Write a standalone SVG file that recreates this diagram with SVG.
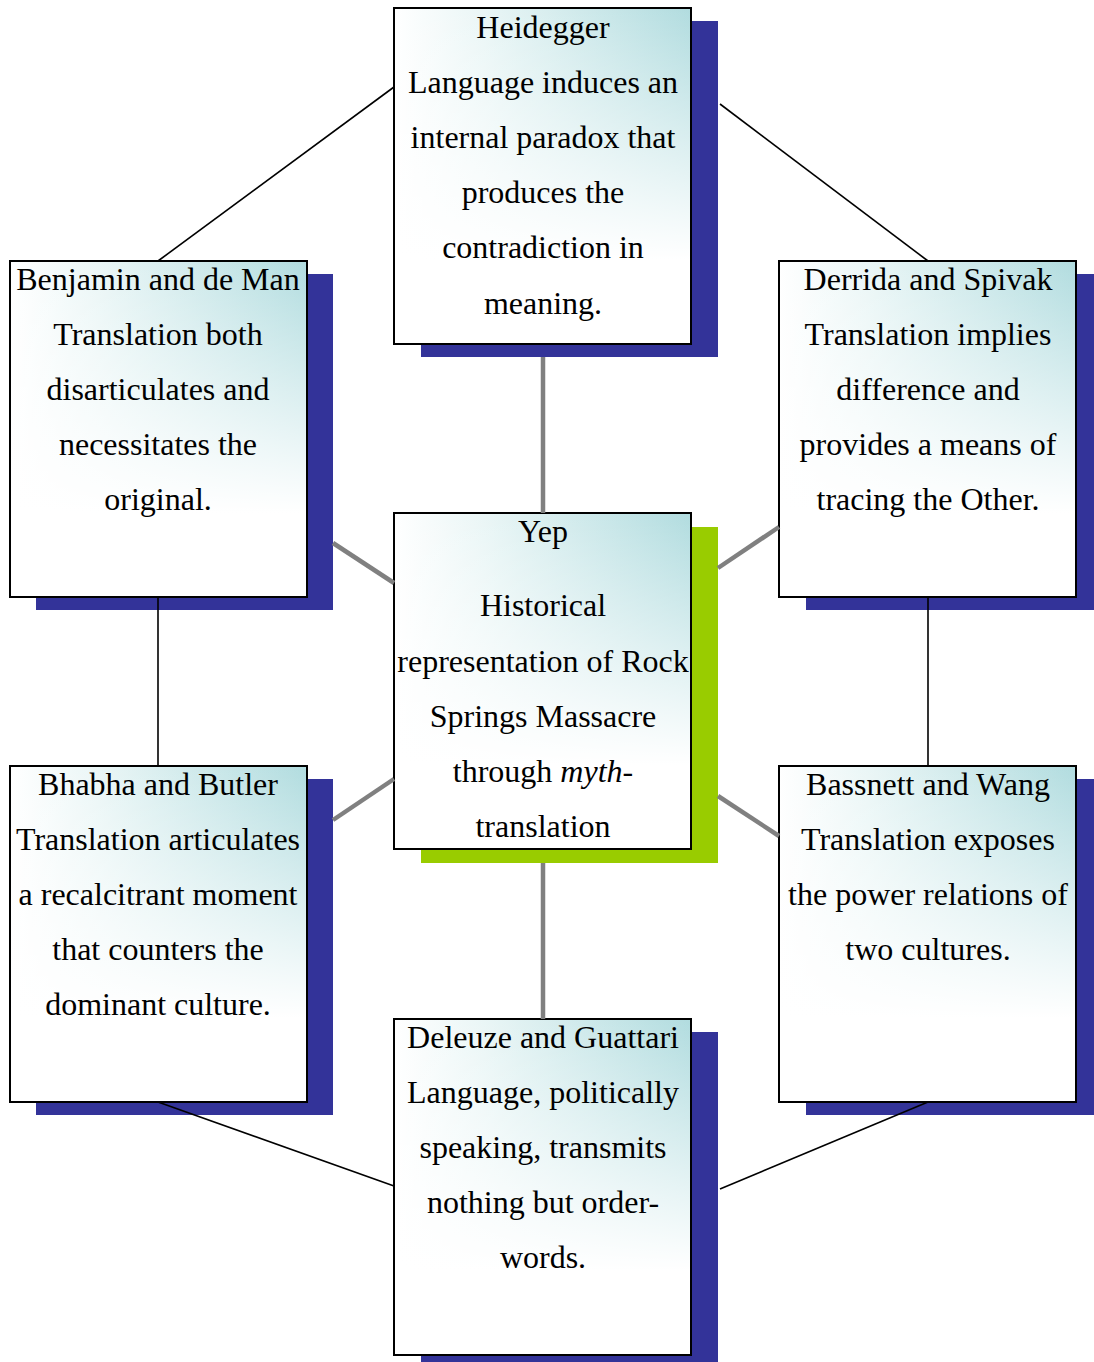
<svg xmlns="http://www.w3.org/2000/svg" width="1094" height="1362" viewBox="0 0 1094 1362">
<style>
.box{stroke:#000;stroke-width:2}
.shb{fill:#333399}
.shg{fill:#99cc00}
.t{font-family:"Liberation Serif","Times New Roman",serif;font-size:32px;fill:#000;text-anchor:middle}
.thin{stroke:#000;stroke-width:1.6;fill:none}
.thick{stroke:#808080;stroke-width:4.5;fill:none}
</style>
<defs>
<linearGradient id="gx" x1="0" y1="0" x2="1" y2="0">
<stop offset="0" stop-color="#ffffff"/>
<stop offset="0.3" stop-color="#eaf6f6"/>
<stop offset="1" stop-color="#b1dcdf"/>
</linearGradient>
<linearGradient id="gy" x1="0" y1="0" x2="0" y2="1">
<stop offset="0" stop-color="#ffffff" stop-opacity="0"/>
<stop offset="0.75" stop-color="#ffffff" stop-opacity="1"/>
<stop offset="1" stop-color="#ffffff" stop-opacity="1"/>
</linearGradient>
<g id="card">
<rect x="0" y="0" width="297" height="336" fill="url(#gx)"/>
<rect x="0" y="0" width="297" height="336" fill="url(#gy)"/>
<rect class="box" x="0" y="0" width="297" height="336" fill="none"/>
</g>
</defs>
<rect width="1094" height="1362" fill="#fff"/>
<g id="heidegger">
<rect class="shb" x="421" y="21" width="297" height="336"/>
<use href="#card" x="394" y="8"/>
<text class="t" x="543" y="38">Heidegger</text>
<text class="t" x="543" y="93">Language induces an</text>
<text class="t" x="543" y="148">internal paradox that</text>
<text class="t" x="543" y="203">produces the</text>
<text class="t" x="543" y="258">contradiction in</text>
<text class="t" x="543" y="314">meaning.</text>
</g>
<g id="benjamin">
<rect class="shb" x="36" y="274" width="297" height="336"/>
<use href="#card" x="10" y="261"/>
<text class="t" x="158" y="290">Benjamin and de Man</text>
<text class="t" x="158" y="345">Translation both</text>
<text class="t" x="158" y="400">disarticulates and</text>
<text class="t" x="158" y="455">necessitates the</text>
<text class="t" x="158" y="510">original.</text>
</g>
<g id="derrida">
<rect class="shb" x="806" y="274" width="288" height="336"/>
<use href="#card" x="779" y="261"/>
<text class="t" x="928" y="290">Derrida and Spivak</text>
<text class="t" x="928" y="345">Translation implies</text>
<text class="t" x="928" y="400">difference and</text>
<text class="t" x="928" y="455">provides a means of</text>
<text class="t" x="928" y="510">tracing the Other.</text>
</g>
<g id="yep">
<rect class="shg" x="421" y="527" width="297" height="336"/>
<use href="#card" x="394" y="513"/>
<text class="t" x="543" y="542">Yep</text>
<text class="t" x="543" y="616">Historical</text>
<text class="t" x="543" y="672">representation of Rock</text>
<text class="t" x="543" y="727">Springs Massacre</text>
<text class="t" x="543" y="782">through <tspan font-style="italic">myth</tspan>-</text>
<text class="t" x="543" y="837">translation</text>
</g>
<g id="bhabha">
<rect class="shb" x="36" y="779" width="297" height="336"/>
<use href="#card" x="10" y="766"/>
<text class="t" x="158" y="795">Bhabha and Butler</text>
<text class="t" x="158" y="850">Translation articulates</text>
<text class="t" x="158" y="905">a recalcitrant moment</text>
<text class="t" x="158" y="960">that counters the</text>
<text class="t" x="158" y="1015">dominant culture.</text>
</g>
<g id="bassnett">
<rect class="shb" x="806" y="779" width="288" height="336"/>
<use href="#card" x="779" y="766"/>
<text class="t" x="928" y="795">Bassnett and Wang</text>
<text class="t" x="928" y="850">Translation exposes</text>
<text class="t" x="928" y="905">the power relations of</text>
<text class="t" x="928" y="960">two cultures.</text>
</g>
<g id="deleuze">
<rect class="shb" x="421" y="1032" width="297" height="330"/>
<use href="#card" x="394" y="1019"/>
<text class="t" x="543" y="1048">Deleuze and Guattari</text>
<text class="t" x="543" y="1103">Language, politically</text>
<text class="t" x="543" y="1158">speaking, transmits</text>
<text class="t" x="543" y="1213">nothing but order-</text>
<text class="t" x="543" y="1268">words.</text>
</g>
<g id="connectors">
<line class="thin" x1="394" y1="87" x2="158" y2="261"/>
<line class="thin" x1="720" y1="104" x2="928" y2="261"/>
<line class="thin" x1="158" y1="597" x2="158" y2="766"/>
<line class="thin" x1="928" y1="597" x2="928" y2="766"/>
<line class="thin" x1="158" y1="1102" x2="394" y2="1186"/>
<line class="thin" x1="928" y1="1102" x2="720" y2="1189"/>
<line class="thick" x1="543" y1="357" x2="543" y2="513"/>
<line class="thick" x1="543" y1="863" x2="543" y2="1019"/>
<line class="thick" x1="333" y1="543" x2="394" y2="583"/>
<line class="thick" x1="718" y1="568" x2="779" y2="527"/>
<line class="thick" x1="333" y1="820" x2="394" y2="779"/>
<line class="thick" x1="718" y1="796" x2="779" y2="836"/>
</g>
</svg>
